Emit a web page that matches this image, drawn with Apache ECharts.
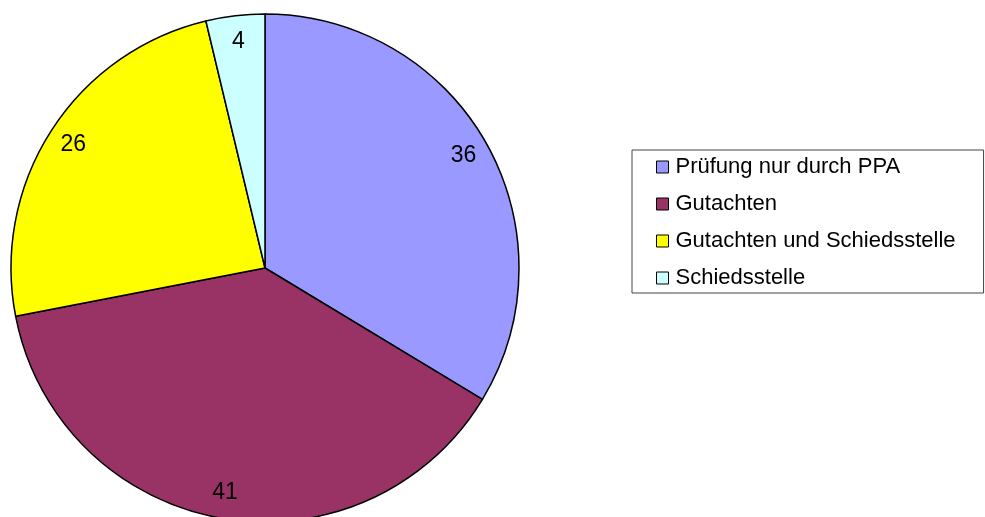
<!DOCTYPE html>
<html>
<head>
<meta charset="utf-8">
<script src="https://cdn.jsdelivr.net/npm/echarts@6/dist/echarts.min.js"></script>
<style>
  html, body { margin: 0; padding: 0; background: #fff; }
  #chart { width: 985px; height: 517px; }
</style>
</head>
<body>
<div id="chart"></div>
<script>
const categories = ['Prüfung nur durch PPA', 'Gutachten', 'Gutachten und Schiedsstelle', 'Schiedsstelle']
const values = [36, 41, 26, 4]
const colors = ['#9999ff', '#993366', '#ffff00', '#ccffff']

const chart = echarts.init(document.getElementById('chart'))

const pieData = categories.map((name, i) => ({
  name,
  value: values[i],
  itemStyle: { color: colors[i] }
}))

// ring used only to place the value labels near the rim
const labelData = categories.map((name, i) => ({
  name,
  value: values[i]
}))

chart.setOption({
  animation: false,
  legend: {
    orient: 'vertical',
    left: 632,
    top: 150,
    data: categories,
    icon: 'rect',
    itemWidth: 12,
    itemHeight: 12,
    itemGap: 15,
    padding: [6, 28, 4, 24],
    borderColor: '#444',
    borderWidth: 1,
    itemStyle: { borderColor: '#000', borderWidth: 1 },
    textStyle: {
      fontFamily: 'Liberation Sans, Arial, sans-serif',
      fontSize: 22,
      color: '#000',
      padding: [0, 0, 0, 2]
    }
  },
  series: [
    {
      type: 'pie',
      center: [265, 268],
      radius: 254,
      startAngle: 90,
      clockwise: true,
      silent: true,
      label: { show: false },
      labelLine: { show: false },
      itemStyle: { borderColor: '#000', borderWidth: 1.5 },
      emphasis: { disabled: true },
      data: pieData
    },
    {
      type: 'pie',
      center: [265, 268],
      radius: [196, 254],
      startAngle: 90,
      clockwise: true,
      silent: true,
      z: 3,
      itemStyle: { color: 'rgba(0,0,0,0)', borderWidth: 0 },
      label: {
        show: true,
        position: 'inside',
        formatter: '{c}',
        color: '#000',
        fontSize: 23,
        fontFamily: 'Liberation Sans, Arial, sans-serif'
      },
      labelLine: { show: false },
      emphasis: { disabled: true },
      data: labelData
    }
  ]
})
</script>
</body>
</html>
